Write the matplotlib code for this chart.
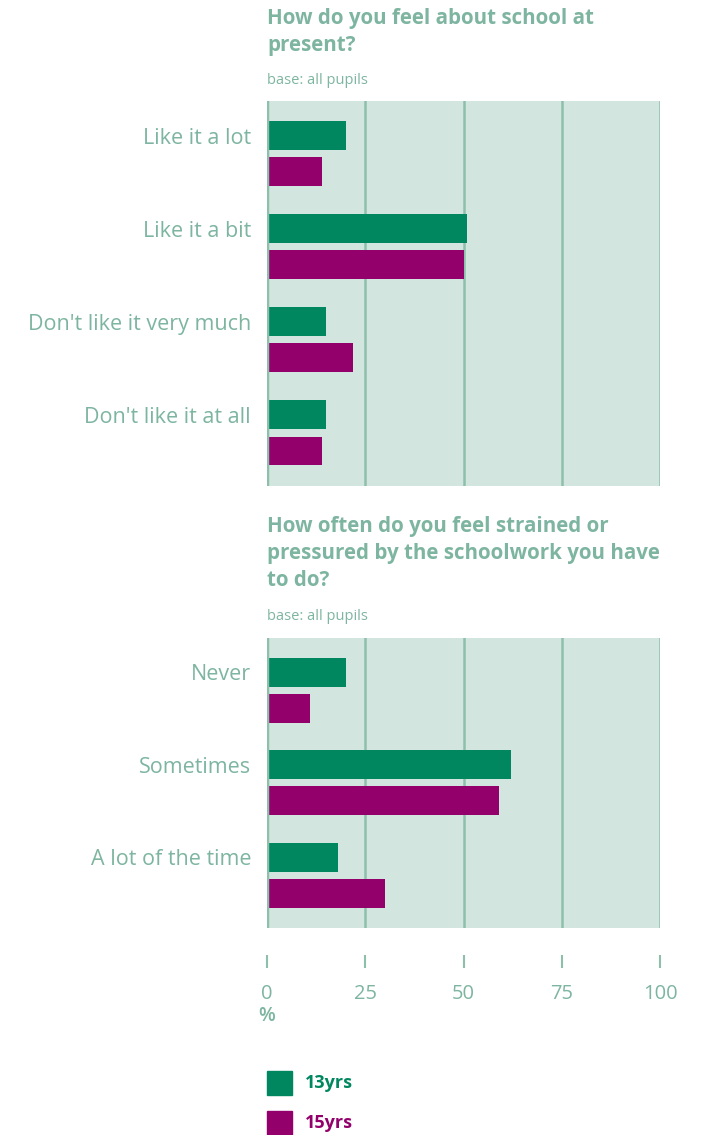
import matplotlib
matplotlib.use("Agg")
import matplotlib.pyplot as plt
from matplotlib.patches import Rectangle
import numpy as np

# ---- data ----
q1_title = "How do you feel about school at\npresent?"
q1_categories = ["Like it a lot", "Like it a bit", "Don't like it very much", "Don't like it at all"]
q1_13yrs = [20, 51, 15, 15]
q1_15yrs = [14, 50, 22, 14]

q2_title = "How often do you feel strained or\npressured by the schoolwork you have\nto do?"
q2_categories = ["Never", "Sometimes", "A lot of the time"]
q2_13yrs = [20, 62, 18]
q2_15yrs = [11, 59, 30]

base_text = "base: all pupils"
series_names = ["13yrs", "15yrs"]
xticks = [0, 25, 50, 75, 100]

# ---- style ----
W, H = 702, 1135
DPI = 100
GREEN = "#00875F"
PURPLE = "#93006B"
BG = "#D2E5DF"
TXT = "#7DB5A0"
GRID = "#8DBFAA"
FONT = "Open Sans"

plt.rcParams['font.family'] = [FONT, 'DejaVu Sans']

fig = plt.figure(figsize=(W / DPI, H / DPI), dpi=DPI)


def fx(px):
    return px / W


def fy(py):
    return 1 - py / H


def make_panel(top, bottom, cats, v13, v15, last=False):
    left, right = 267, 660
    ax = fig.add_axes([fx(left), fy(bottom), fx(right - left), (bottom - top) / H])
    ax.set_facecolor(BG)
    n = len(cats)
    y = np.arange(n)
    off = 0.194
    h = 0.31
    ax.barh(y - off, v13, height=h, color=GREEN, zorder=3)
    ax.barh(y + off, v15, height=h, color=PURPLE, zorder=3)
    ax.set_xlim(0, 100)
    ax.set_ylim(n - 1 + 0.57, -0.565)
    for xv in xticks[1:]:
        ax.axvline(xv, color=GRID, lw=1.8, zorder=2)
    ax.axvline(0, color=GRID, lw=3.2, zorder=4)
    if last:
        ax.spines['bottom'].set_position(('outward', 29))
    for s in ax.spines.values():
        s.set_visible(False)
    ax.set_yticks(y - off)
    ax.set_yticklabels(cats)
    ax.tick_params(axis='y', length=0, pad=11.5, labelsize=15.5, labelcolor=TXT)
    if last:
        ax.set_xticks(xticks)
        ax.set_xticklabels([str(t) for t in xticks])
        ax.tick_params(axis='x', direction='in', length=9.5, width=1.5, color=GRID, pad=11,
                       labelsize=14.5, labelcolor=TXT)
    else:
        ax.set_xticks([])
    return ax


def title_block(y_first, title, y_base):
    lines = title.split("\n")
    for i, line in enumerate(lines):
        fig.text(fx(267), fy(y_first + i * 26.8), line, fontsize=14.8, fontweight='bold',
                 color=TXT, va='center', ha='left')
    fig.text(fx(267), fy(y_base), base_text, fontsize=10.5, color=TXT, va='center', ha='left',
             family=['Liberation Sans Narrow', FONT, 'DejaVu Sans'])


title_block(18.5, q1_title, 80)
make_panel(101, 486, q1_categories, q1_13yrs, q1_15yrs)

title_block(526.5, q2_title, 616)
make_panel(638, 928, q2_categories, q2_13yrs, q2_15yrs, last=True)

fig.text(fx(267), fy(1016), "%", fontsize=14, color=TXT, va='center', ha='center', fontweight='semibold')

# legend
for i, (name, col) in enumerate(zip(series_names, [GREEN, PURPLE])):
    yc = 1083 + i * 40
    fig.patches.append(Rectangle((fx(267), fy(yc + 12)), fx(25), 24 / H,
                                 transform=fig.transFigure, color=col))
    fig.text(fx(305), fy(yc), name, fontsize=13, fontweight='bold', color=col,
             va='center', ha='left')

fig.savefig("out.png", dpi=DPI)
